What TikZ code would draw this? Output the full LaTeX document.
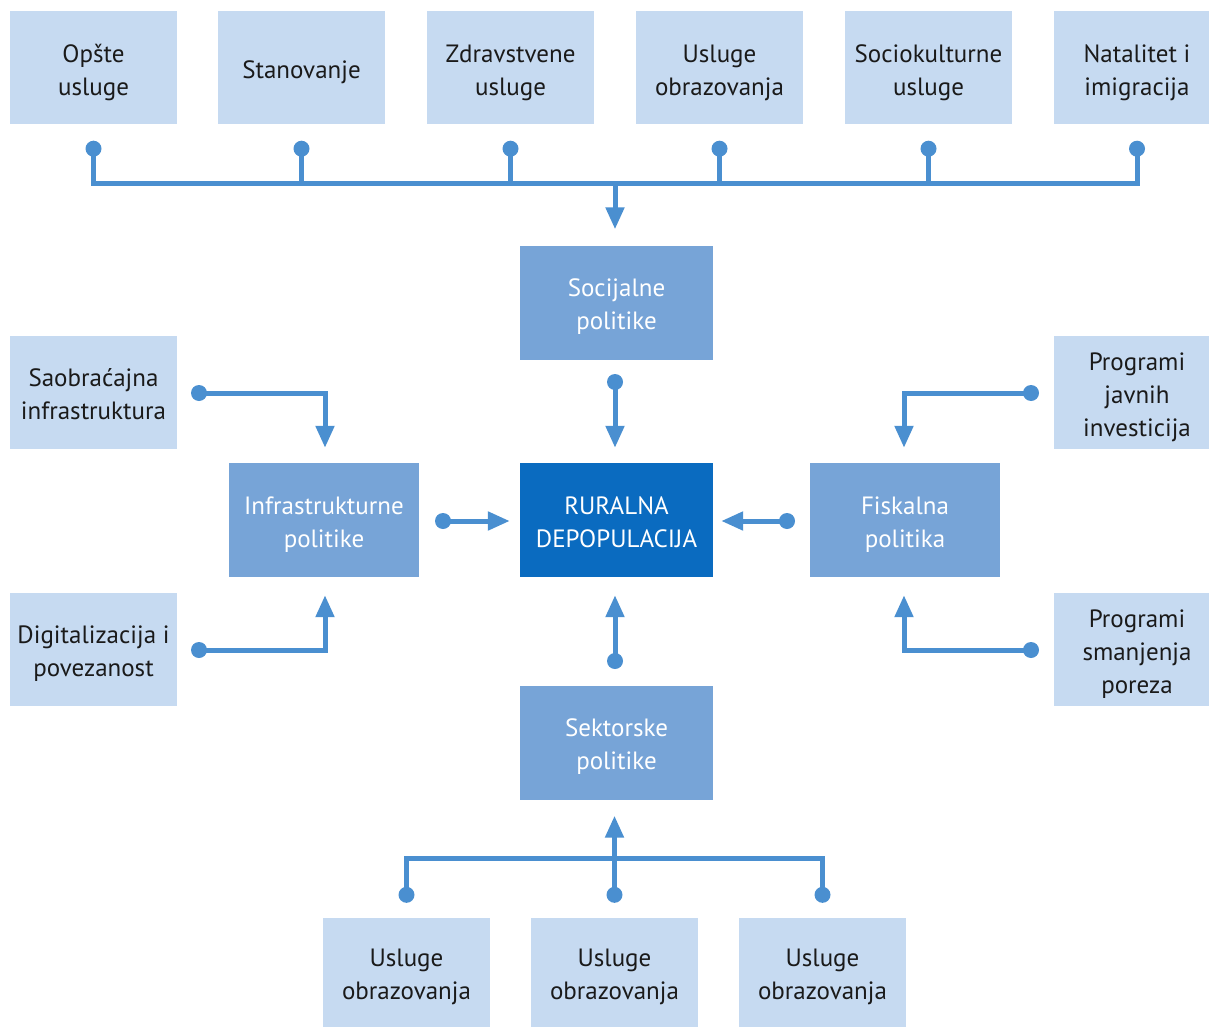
\documentclass[tikz,border=0pt]{standalone}
\usepackage{fontspec}
\setmainfont{PT Sans}
\usetikzlibrary{arrows.meta}
\definecolor{lightb}{HTML}{C6DAF1}
\definecolor{midb}{HTML}{77A4D7}
\definecolor{darkb}{HTML}{0A6BC0}
\definecolor{connc}{HTML}{4A8FD0}
\definecolor{txt}{HTML}{1A1A1A}
\newcommand\tb[1]{\raisebox{-4pt}[\height][\depth]{\begin{tabular}{@{}c@{}}#1\end{tabular}}}
\begin{document}
\begin{tikzpicture}[x=1pt,y=-1pt,
  basebox/.style={inner sep=0pt, align=center, font=\fontsize{25}{33}\selectfont},
  lightbox/.style={basebox, fill=lightb, text=txt, minimum width=167pt, minimum height=113pt},
  midbox/.style={basebox, fill=midb, text=white, minimum width=193pt, minimum height=114pt},
  darkbox/.style={basebox, fill=darkb, text=white, minimum width=193pt, minimum height=114pt},
  conn/.style={draw=connc, line width=5pt, line join=miter},
  arr/.style={conn, -{Triangle[width=18pt,length=22pt]}},
  dot/.style={fill=connc, circle, inner sep=0pt, minimum size=16pt}]
\useasboundingbox (0,0) rectangle (1209,1027);
% top boxes
\node[lightbox] (t1) at (93.5,68) {\tb{Opšte\\usluge}};
\node[lightbox] (t2) at (301.5,68) {\tb{Stanovanje}};
\node[lightbox] (t3) at (510.5,68) {\tb{Zdravstvene\\usluge}};
\node[lightbox] (t4) at (719.5,68) {\tb{Usluge\\obrazovanja}};
\node[lightbox] (t5) at (928.5,68) {\tb{Sociokulturne\\usluge}};
\node[lightbox] (t6) at (1137,68) {\tb{Natalitet i\\imigracija}};
% middle boxes
\node[midbox] (soc) at (616.5,302.5) {\tb{Socijalne\\politike}};
\node[darkbox] (rur) at (616.5,520) {\tb{RURALNA\\DEPOPULACIJA}};
\node[midbox, minimum width=190pt] (inf) at (324,520) {\tb{Infrastrukturne\\politike}};
\node[midbox, minimum width=190pt] (fis) at (905,520) {\tb{Fiskalna\\politika}};
\node[midbox] (sek) at (616.5,742.5) {\tb{Sektorske\\politike}};
% side boxes
\node[lightbox] (sao) at (93.5,392.5) {\tb{Saobraćajna\\infrastruktura}};
\node[lightbox] (dig) at (93.5,649.5) {\tb{Digitalizacija i\\povezanost}};
\node[lightbox] (pjav) at (1137,392.5) {\tb{Programi\\javnih\\investicija}};
\node[lightbox] (psm) at (1137,649.5) {\tb{Programi\\smanjenja\\poreza}};
% bottom boxes
\node[lightbox, minimum height=109pt] (b1) at (406.5,972.5) {\tb{Usluge\\obrazovanja}};
\node[lightbox, minimum height=109pt] (b2) at (614.5,972.5) {\tb{Usluge\\obrazovanja}};
\node[lightbox, minimum height=109pt] (b3) at (822.5,972.5) {\tb{Usluge\\obrazovanja}};
% top connectors
\foreach \n in {t1,t2,t3,t4,t5,t6} {\coordinate (\n d) at ([yshift=-24pt]\n.south);}
\coordinate (topbus) at (615,184);
\draw[conn] (t1d) |- (topbus) -| (t6d);
\foreach \n in {t2,t3,t4,t5} {\draw[conn] (\n d) -- (\n d |- topbus);}
\foreach \n in {t1,t2,t3,t4,t5,t6} {\node[dot] at (\n d) {};}
\draw[arr, shorten >=16pt] (topbus) -- (topbus |- soc.north);
% socijalne -> rural
\coordinate (sd) at (615,382);
\draw[arr, shorten >=15pt] (sd) -- (sd |- rur.north);
\node[dot] at (sd) {};
% infra -> rural
\coordinate (id) at (443,521);
\draw[arr, shorten >=10pt] (id) -- (id -| rur.west);
\node[dot] at (id) {};
% fiskal -> rural
\coordinate (fd) at (787,521);
\draw[arr, shorten >=8pt] (fd) -- (fd -| rur.east);
\node[dot] at (fd) {};
% sektorske -> rural
\coordinate (kd) at (615,661);
\draw[arr, shorten >=18pt] (kd) -- (kd |- rur.south);
\node[dot] at (kd) {};
% saobracajna -> infra
\coordinate (sad) at (199,393);
\coordinate (sac) at (325,393);
\draw[arr, shorten >=15pt] (sad) -- (sac) -- (sac |- inf.north);
\node[dot] at (sad) {};
% digitalizacija -> infra
\coordinate (dgd) at (199,650);
\coordinate (dgc) at (325,650);
\draw[arr, shorten >=18pt] (dgd) -- (dgc) -- (dgc |- inf.south);
\node[dot] at (dgd) {};
% programi javnih -> fiskal
\coordinate (pjd) at (1031,393);
\coordinate (pjc) at (904,393);
\draw[arr, shorten >=15pt] (pjd) -- (pjc) -- (pjc |- fis.north);
\node[dot] at (pjd) {};
% programi smanjenja -> fiskal
\coordinate (psd) at (1031,650);
\coordinate (psc) at (904,650);
\draw[arr, shorten >=18pt] (psd) -- (psc) -- (psc |- fis.south);
\node[dot] at (psd) {};
% bottom connectors
\foreach \n in {b1,b2,b3} {\coordinate (\n d) at ([yshift=23pt]\n.north);}
\coordinate (botbus) at (615,858);
\draw[conn] (b1d) |- (botbus) -| (b3d);
\draw[arr, shorten >=16pt] (b2d) -- (b2d |- sek.south);
\foreach \n in {b1,b2,b3} {\node[dot] at (\n d) {};}
\end{tikzpicture}
\end{document}
